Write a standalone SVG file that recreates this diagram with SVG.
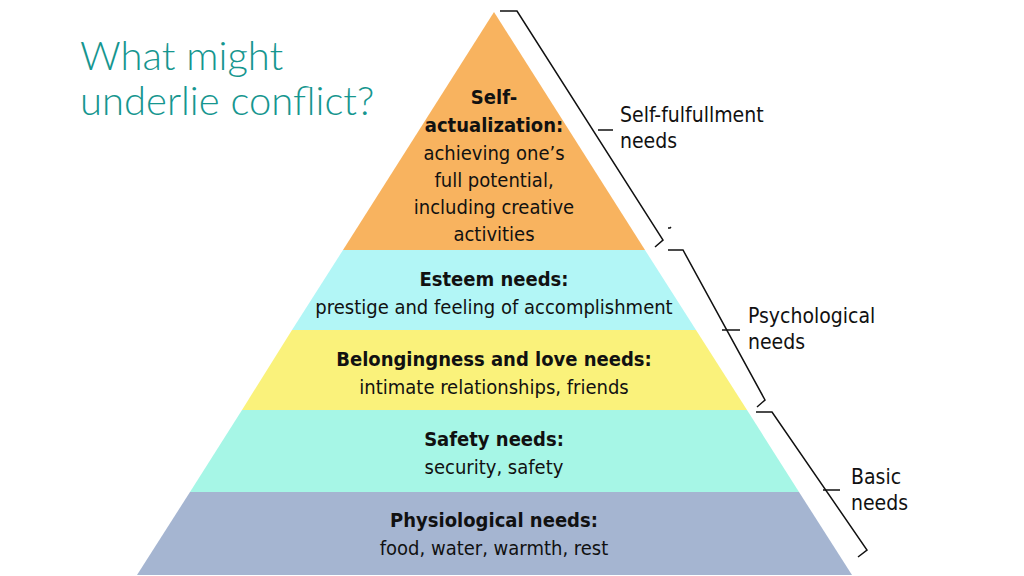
<svg xmlns="http://www.w3.org/2000/svg" width="1024" height="576" viewBox="0 0 1024 576">
<style>
.t{font-family:"DejaVu Sans Condensed","DejaVu Sans",sans-serif;font-size:20px;fill:#111;text-anchor:middle}
.b{font-weight:bold}
.s{font-family:"DejaVu Sans Condensed","DejaVu Sans",sans-serif;font-size:21px;fill:#111}
.br{fill:none;stroke:#111;stroke-width:1.5}
</style>
<rect width="1024" height="576" fill="#fff"/>
<text x="80" y="70" font-family="Lato, 'Open Sans', sans-serif" font-weight="300" font-size="40" fill="#16968f">What might</text>
<text x="80" y="115" font-family="Lato, 'Open Sans', sans-serif" font-weight="300" font-size="40" fill="#16968f">underlie conflict?</text>
<g id="self">
<polygon points="494,12 645,250 343,250" fill="#f8b35f"/>
<text class="t b" x="494" y="104">Self-</text>
<text class="t b" x="494" y="132">actualization:</text>
<text class="t" x="494" y="160">achieving one’s</text>
<text class="t" x="494" y="187">full potential,</text>
<text class="t" x="494" y="214">including creative</text>
<text class="t" x="494" y="241">activities</text>
</g>
<g id="esteem">
<polygon points="343,250 645,250 696,330 292,330" fill="#b2f6f6"/>
<text class="t b" x="494" y="286">Esteem needs:</text>
<text class="t" x="494" y="314">prestige and feeling of accomplishment</text>
</g>
<g id="belong">
<polygon points="292,330 696,330 747,410 242,410" fill="#faf27b"/>
<text class="t b" x="494" y="366">Belongingness and love needs:</text>
<text class="t" x="494" y="394">intimate relationships, friends</text>
</g>
<g id="safety">
<polygon points="242,410 747,410 799,492 190,492" fill="#a6f6e6"/>
<text class="t b" x="494" y="446">Safety needs:</text>
<text class="t" x="494" y="474">security, safety</text>
</g>
<g id="physio">
<polygon points="190,492 799,492 852,575 137,575" fill="#a5b5d1"/>
<text class="t b" x="494" y="527">Physiological needs:</text>
<text class="t" x="494" y="555">food, water, warmth, rest</text>
</g>
<g id="brackets">
<polyline class="br" points="500,11 517,11 663,240 655,247"/>
<line class="br" x1="598" y1="130" x2="613" y2="130"/>
<polyline class="br" points="671,227 670,228 668,228"/>
<polyline class="br" points="668,250 683,250 765,400 757,407"/>
<line class="br" x1="722" y1="330" x2="740" y2="330"/>
<polyline class="br" points="756,412 772,412 867,550 858,557"/>
<line class="br" x1="823" y1="490" x2="840" y2="490"/>
</g>
<g id="labels">
<text class="s" x="620" y="122">Self-fulfullment</text>
<text class="s" x="620" y="148">needs</text>
<text class="s" x="748" y="323">Psychological</text>
<text class="s" x="748" y="349">needs</text>
<text class="s" x="851" y="484">Basic</text>
<text class="s" x="851" y="510">needs</text>
</g>
</svg>
